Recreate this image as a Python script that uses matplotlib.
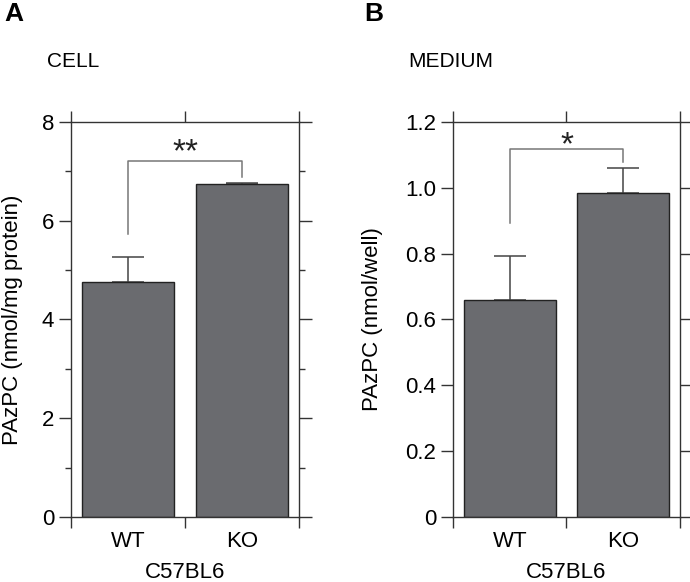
import numpy as np
import matplotlib.pyplot as plt
from matplotlib.ticker import MultipleLocator, FixedLocator

plt.rcParams['font.family'] = ['Liberation Sans', 'DejaVu Sans']

groups = ['WT', 'KO']
strain = 'C57BL6'

cell_mean = [4.76, 6.74]
cell_err = [0.51, 0.03]
medium_mean = [0.659, 0.984]
medium_err = [0.135, 0.076]

# significance brackets: bar height, left leg end, right leg end, label
cell_sig = [7.21, 5.73, 6.89, '**']
medium_sig = [1.117, 0.892, 1.079, '*']

bar_color = '#6a6b6f'
line_color = '#333333'


def panel(ax, means, errs, sig, ymax, ystep, yminor, fmt, ylabel, star_off):
	x = np.arange(len(groups))
	ax.errorbar(x, means, yerr=[np.zeros(len(errs)), errs], fmt='none',
		ecolor='#444444', elinewidth=1.1, capsize=11.5, capthick=1.1, zorder=1)
	ax.bar(x, means, width=0.81, color=bar_color, edgecolor='#222222',
		linewidth=1.0, zorder=2)

	ax.set_xlim(-0.5, 1.5)
	ax.set_ylim(0, ymax)

	ax.xaxis.set_major_locator(FixedLocator(x))
	ax.set_xticklabels(groups)
	ax.xaxis.set_minor_locator(FixedLocator([-0.5, 0.5, 1.5]))
	ax.tick_params(axis='x', which='major', length=0, pad=10, labelsize=16)
	ax.tick_params(axis='x', which='minor', length=8, width=1,
		direction='out', top=True, bottom=True, color=line_color)

	ax.yaxis.set_major_locator(MultipleLocator(ystep))
	if yminor:
		ax.yaxis.set_minor_locator(MultipleLocator(yminor))
	ax.yaxis.set_major_formatter(fmt)
	ax.tick_params(axis='y', which='major', length=9, width=1, direction='out',
		left=True, right=True, labelsize=16, pad=3, color=line_color)
	ax.tick_params(axis='y', which='minor', length=4.5, width=1, direction='out',
		left=True, right=True, color=line_color)

	for s in ax.spines.values():
		s.set_linewidth(1.0)
		s.set_color(line_color)

	ax.set_xlabel(strain, fontsize=16, labelpad=7.5)
	ax.set_ylabel(ylabel, fontsize=16)

	# significance bracket
	ytop, yl, yr, star = sig
	ax.plot([0, 0, 1, 1], [yl, ytop, ytop, yr], color='#777777', lw=1.1,
		zorder=3)
	ax.annotate(star, (0.5, ytop), xytext=(0, star_off),
		textcoords='offset points', ha='center', va='baseline',
		fontsize=24, color='#222222')


fig = plt.figure(figsize=(6.9, 5.82), dpi=100)
axA = fig.add_axes([0.1029, 0.1117, 0.3304, 0.6787])
axB = fig.add_axes([0.6565, 0.1117, 0.3290, 0.6787])

panel(axA, cell_mean, cell_err, cell_sig, 8, 2, 1,
	lambda v, p: '%d' % v, 'PAzPC (nmol/mg protein)', -0.5)
panel(axB, medium_mean, medium_err, medium_sig, 1.2, 0.2, None,
	lambda v, p: '0' if v == 0 else '%.1f' % v, 'PAzPC (nmol/well)', -3.3)

axA.yaxis.set_label_coords(-0.21, 0.5)
axB.yaxis.set_label_coords(-0.308, 0.5)

fig.text(0.007, 0.997, 'A', fontsize=19, fontweight='bold', va='top')
fig.text(0.528, 0.997, 'B', fontsize=19, fontweight='bold', va='top')
fig.text(0.068, 0.895, 'CELL', fontsize=15, va='center')
fig.text(0.591, 0.895, 'MEDIUM', fontsize=15, va='center')

fig.savefig('out.png', dpi=100)
